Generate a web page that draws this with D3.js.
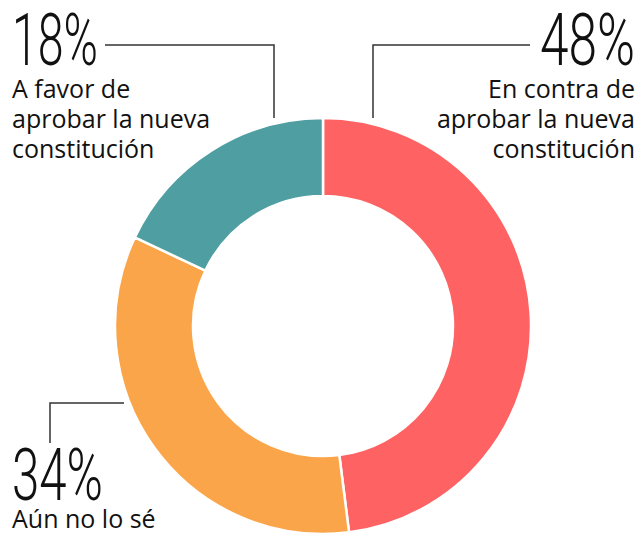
<!DOCTYPE html>
<html>
<head>
<meta charset="utf-8">
<script src="https://cdn.jsdelivr.net/npm/d3@7"></script>
<style>
  body { margin: 0; background: #fff; }
  .num { font-family: Roboto, "Liberation Sans Narrow", sans-serif; font-weight: 300; font-size: 72px; fill: #111; }
  .lbl { font-family: "Open Sans", sans-serif; font-size: 25px; fill: #111; }
  .leader { fill: none; stroke: #333; stroke-width: 1.5; }
</style>
</head>
<body>
<svg id="chart" width="641" height="533"></svg>
<script>
const categories = ["En contra de aprobar la nueva constitución", "Aún no lo sé", "A favor de aprobar la nueva constitución"];
const values = [48, 34, 18];
const colors = ["#fe6262", "#fba54a", "#4f9ea2"];
const labelLines = [
    ["En contra de", "aprobar la nueva", "constitución"],
    ["Aún no lo sé"],
    ["A favor de", "aprobar la nueva", "constitución"]
];

const width = 641, height = 533;
const cx = 323, cy = 326;
const outerR = 208, innerR = 130;

const svg = d3.select("#chart");

const pie = d3.pie().sort(null).value(d => d);
const arc = d3.arc().innerRadius(innerR).outerRadius(outerR);

svg.append("g")
    .attr("transform", `translate(${cx},${cy})`)
    .selectAll("path")
    .data(pie(values))
    .enter()
    .append("path")
    .attr("d", arc)
    .attr("fill", (d, i) => colors[i])
    .attr("stroke", "#fff")
    .attr("stroke-width", 2.5);

// label placement (layout only)
const layout = [
    { x: 635, y: 65, anchor: "end", lineY: 98, leader: [[530, 45], [373, 45], [373, 118]] },
    { x: 12, y: 500, anchor: "start", lineY: 528, leader: [[50, 443], [50, 403], [124, 403]] },
    { x: 12, y: 65, anchor: "start", lineY: 98, leader: [[105, 45], [274, 45], [274, 118]] }
];

const numW = { "48%": 95, "34%": 91, "18%": 86 };

values.forEach((v, i) => {
    const L = layout[i];
    svg.append("path")
        .attr("class", "leader")
        .attr("d", d3.line()(L.leader));

    const t = v + "%";
    svg.append("text")
        .attr("class", "num")
        .attr("x", L.x)
        .attr("y", L.y)
        .attr("text-anchor", L.anchor)
        .attr("textLength", numW[t])
        .attr("lengthAdjust", "spacingAndGlyphs")
        .text(t);

    labelLines[i].forEach((s, j) => {
        svg.append("text")
            .attr("class", "lbl")
            .attr("x", L.x)
            .attr("y", L.lineY + j * 30)
            .attr("text-anchor", L.anchor)
            .text(s);
    });
});
</script>
</body>
</html>
